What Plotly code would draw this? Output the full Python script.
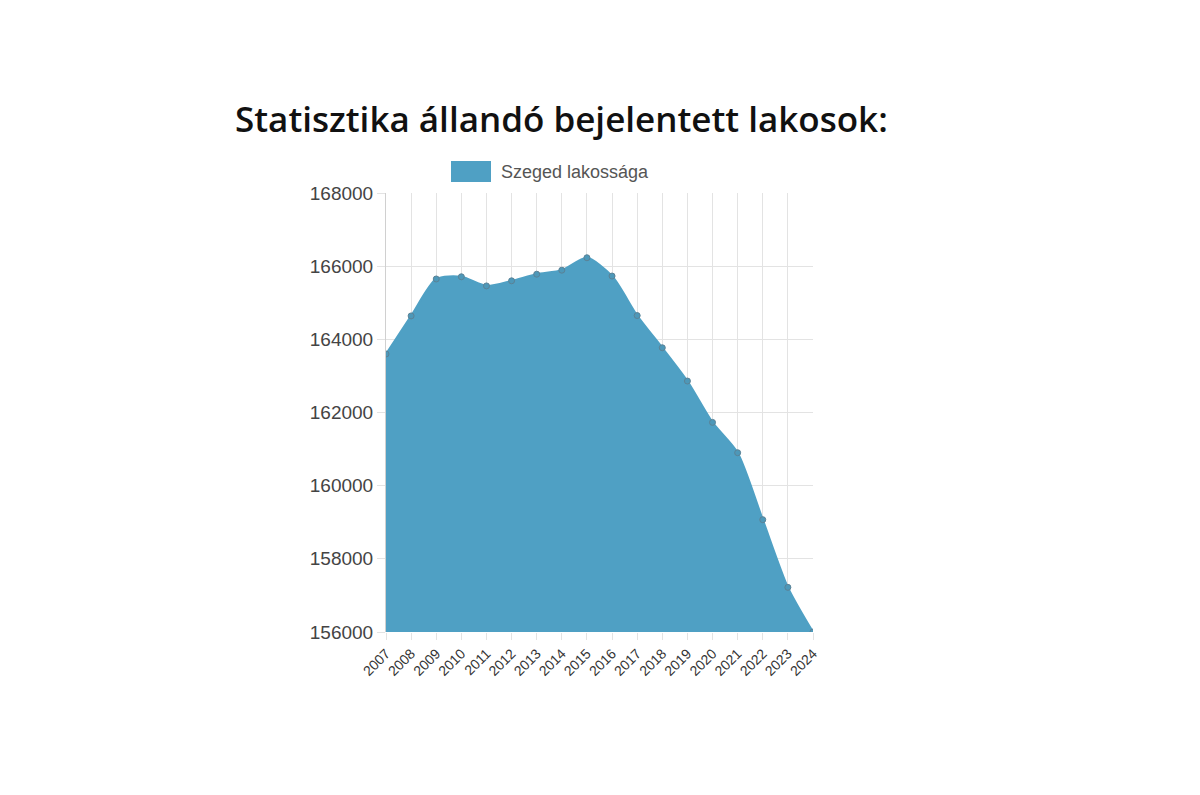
import plotly.graph_objects as go

years = [str(y) for y in range(2007, 2025)]
population = [163600, 164640, 165650, 165710, 165460, 165600, 165780, 165890,
              166230, 165730, 164650, 163770, 162860, 161730, 160900, 159070,
              157220, 156000]
y_ticks = [156000, 158000, 160000, 162000, 164000, 166000, 168000]
series_name = "Szeged lakossága"
title_text = "Statisztika állandó bejelentett lakosok:"

FILL = "#4fa0c4"

fig = go.Figure()
fig.add_trace(go.Scatter(
    x=years, y=population, mode="lines+markers", name=series_name,
    fill="tozeroy", fillcolor=FILL,
    line=dict(color=FILL, width=2, shape="spline", smoothing=0.7),
    marker=dict(size=6, color="#4d98b9", line=dict(color="#5b8296", width=1)),
    showlegend=False, cliponaxis=True,
))

# page body has an 8px offset; work in screen pixels and convert
OFF = 8
W, H = 1184, 779
L, T = 386 - OFF, 193 - OFF
pw, ph = 427, 439
R = W - L - pw
B = H - T - ph

def px_to_paper(x, y):
    x -= OFF
    y -= OFF
    return (x - L) / pw, (T + ph - y) / ph

# legend box + text
x0, y0 = px_to_paper(451, 182)
x1, y1 = px_to_paper(491, 161)
fig.add_shape(type="rect", xref="paper", yref="paper", x0=x0, y0=y0, x1=x1, y1=y1,
              fillcolor=FILL, line=dict(width=0))
tx, ty = px_to_paper(499, 172)
fig.add_annotation(xref="paper", yref="paper", x=tx, y=ty, text=series_name,
                   showarrow=False, xanchor="left", yanchor="middle",
                   font=dict(family="Liberation Sans, Arial", size=18, color="#555555"))
hx, hy = px_to_paper(561, 119)
fig.add_annotation(xref="paper", yref="paper", x=hx, y=hy, text=title_text,
                   showarrow=False, xanchor="center", yanchor="middle",
                   font=dict(family="Open Sans", size=35, color="#111111", weight=600))

fig.update_layout(
    width=W, height=H,
    margin=dict(l=L, r=R, t=T, b=B, pad=0),
    paper_bgcolor="white", plot_bgcolor="white",
    showlegend=False,
)
fig.update_xaxes(
    type="category", range=[0, len(years) - 1],
    showgrid=True, gridcolor="#e3e3e3", gridwidth=1,
    ticks="outside", ticklen=7, tickcolor="#e3e3e3",
    tickangle=-45, tickfont=dict(family="Liberation Sans, Arial", size=14, color="#333333"),
    showline=False, zeroline=False,
)
fig.update_yaxes(
    range=[156000, 168000], tickvals=y_ticks, ticktext=[str(v) for v in y_ticks],
    showgrid=True, gridcolor="#e3e3e3", gridwidth=1,
    ticks="outside", ticklen=8, tickcolor="#e3e3e3",
    tickfont=dict(family="Liberation Sans, Arial", size=19, color="#444444"),
    showline=True, linecolor="#d0d0d0", zeroline=False,
)

fig.write_html("out.html")
